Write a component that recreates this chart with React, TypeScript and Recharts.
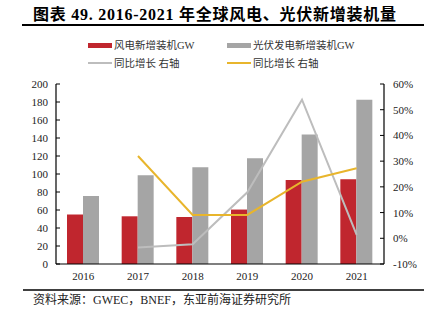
import React from 'react';
import { ComposedChart, Bar, Line, XAxis, YAxis } from 'recharts';

const years = ['2016', '2017', '2018', '2019', '2020', '2021'];
const windGW = [55, 53, 52.2, 60.5, 93.3, 94.1];
const pvGW = [75.5, 98.5, 107.4, 117.4, 144, 182.6];
const windYoY = [null, -3.6, -2.3, 17.9, 53.9, 1.3];
const pvYoY = [null, 32, 9.1, 9.1, 22, 27.2];
const leftTicks = [0, 20, 40, 60, 80, 100, 120, 140, 160, 180, 200];
const rightTicks = [-10, 0, 10, 20, 30, 40, 50, 60];

const seriesNames = ['风电新增装机GW', '光伏发电新增装机GW', '同比增长 右轴', '同比增长 右轴'];
const titleText = '图表 49. 2016-2021 年全球风电、光伏新增装机量';
const sourceText = '资料来源：GWEC，BNEF，东亚前海证券研究所';

const RED = '#C0262E';
const GRAY = '#A5A5A5';
const LGRAY = '#BDBDBD';
const YELLOW = '#E8B52C';
const FONT = "'Liberation Serif', 'Noto Sans CJK SC', serif";

const data = years.map((y, i) => ({
  year: y,
  wind: windGW[i],
  pv: pvGW[i],
  windYoY: windYoY[i],
  pvYoY: pvYoY[i],
}));

const LeftTick = (props: any) => {
  const { x, y, payload } = props;
  return (
    <g>
      <line x1={x} y1={y} x2={x + 4} y2={y} stroke="#000" strokeWidth={1} />
      <text x={x - 8} y={y} textAnchor="end" dominantBaseline="central" fontSize={11} fill="#222" fontFamily={FONT}>
        {payload.value}
      </text>
    </g>
  );
};

const RightTick = (props: any) => {
  const { x, y, payload } = props;
  return (
    <g>
      <line x1={x - 4} y1={y} x2={x} y2={y} stroke="#000" strokeWidth={1} />
      <text x={x + 9} y={y} textAnchor="start" dominantBaseline="central" fontSize={11} fill="#222" fontFamily={FONT}>
        {payload.value + '%'}
      </text>
    </g>
  );
};

export default function App() {
  return (
    <div style={{ position: 'absolute', left: 0, top: 0, width: 432, height: 324, background: '#fff' }}>
      <ComposedChart
        width={432}
        height={324}
        data={data}
        margin={{ top: 84, right: 0, bottom: 30, left: 0 }}
        barGap={0}
      >
        <XAxis
          dataKey="year"
          tickLine={false}
          tickSize={0}
          tickMargin={8}
          axisLine={{ stroke: '#000', strokeWidth: 1.2 }}
          tick={{ fontSize: 11, fill: '#222', fontFamily: FONT }}
          height={30}
        />
        <YAxis
          yAxisId="left"
          width={56}
          domain={[0, 200]}
          ticks={leftTicks}
          interval={0}
          tickLine={false}
          tickSize={0}
          tickMargin={0}
          axisLine={{ stroke: '#000', strokeWidth: 1.2 }}
          tick={<LeftTick />}
        />
        <YAxis
          yAxisId="right"
          orientation="right"
          width={48}
          domain={[-10, 60]}
          ticks={rightTicks}
          interval={0}
          tickLine={false}
          tickSize={0}
          tickMargin={0}
          axisLine={{ stroke: '#000', strokeWidth: 1.2 }}
          tick={<RightTick />}
        />
        <Bar yAxisId="left" dataKey="wind" name={seriesNames[0]} fill={RED} barSize={16} isAnimationActive={false} />
        <Bar yAxisId="left" dataKey="pv" name={seriesNames[1]} fill={GRAY} barSize={16} isAnimationActive={false} />
        <Line yAxisId="right" dataKey="windYoY" name={seriesNames[2]} stroke={LGRAY} strokeWidth={2} dot={false} isAnimationActive={false} />
        <Line yAxisId="right" dataKey="pvYoY" name={seriesNames[3]} stroke={YELLOW} strokeWidth={2} dot={false} isAnimationActive={false} />
      </ComposedChart>
      <svg width={432} height={324} style={{ position: 'absolute', left: 0, top: 0, pointerEvents: 'none' }}>
        <text x={33} y={14} dominantBaseline="central" fontSize={16} fontWeight="bold" letterSpacing={0.75} fontFamily={FONT} fill="#000">
          {titleText}
        </text>
        <line x1={22} y1={25} x2={424} y2={25} stroke="#000" strokeWidth={2} />
        <rect x={88} y={43} width={24} height={5} fill={RED} />
        <text x={114} y={45.5} dominantBaseline="central" fontSize={10.5} fontFamily={FONT} fill="#333">{seriesNames[0]}</text>
        <rect x={227} y={43} width={24} height={5} fill={GRAY} />
        <text x={253} y={45.5} dominantBaseline="central" fontSize={10.5} fontFamily={FONT} fill="#333">{seriesNames[1]}</text>
        <line x1={88} y1={63} x2={112} y2={63} stroke={LGRAY} strokeWidth={2} />
        <text x={114} y={63.5} dominantBaseline="central" fontSize={10.5} fontFamily={FONT} fill="#333">{seriesNames[2]}</text>
        <line x1={227} y1={63} x2={251} y2={63} stroke={YELLOW} strokeWidth={2} />
        <text x={253} y={63.5} dominantBaseline="central" fontSize={10.5} fontFamily={FONT} fill="#333">{seriesNames[3]}</text>
        <line x1={23} y1={290} x2={424} y2={290} stroke="#000" strokeWidth={1.5} />
        <text x={33} y={299.5} dominantBaseline="central" fontSize={12} fontFamily={FONT} fill="#222">{sourceText}</text>
      </svg>
    </div>
  );
}
